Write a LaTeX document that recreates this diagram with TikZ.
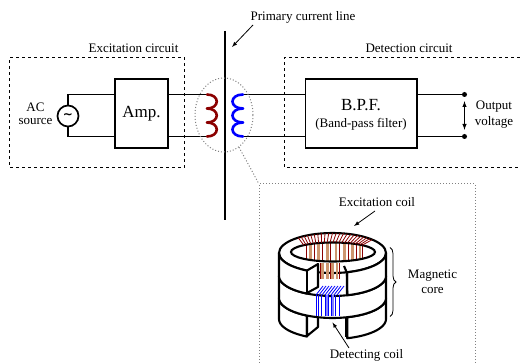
\documentclass[tikz,border=0pt]{standalone}
\usepackage{fontspec}
\setmainfont{Liberation Serif}
\newfontfamily\tildefont{DejaVu Sans}
\usetikzlibrary{decorations.pathreplacing,shapes.geometric}
\definecolor{coilred}{RGB}{139,0,0}
\definecolor{coilblue}{RGB}{0,0,255}
\definecolor{barbrown}{RGB}{205,150,110}
\definecolor{barblue}{RGB}{130,130,255}
\tikzset{>=latex,x=1pt,y=-1pt,
  every node/.style={font=\fontsize{13}{15}\selectfont,inner sep=0pt},
  wire/.style={line width=1.7pt},
  block/.style={draw,line width=1.7pt,fill=white},
  frame/.style={dashed,line width=1pt},
  zoomline/.style={dotted,gray,line width=1pt},
  corepart/.style={draw,fill=white,line width=2.1pt,line join=round},
  coilwire/.style={line width=2.6pt,line cap=round},
  pointer/.style={->,line width=0.8pt}}
\newcommand{\rimx}[1]{332.5+53.5*cos(#1)}
\begin{document}
\begin{tikzpicture}
    \useasboundingbox (0,0) rectangle (520,363);
    % dashed frames
    \draw[frame] (184,57.5) rectangle (9.5,168);
    \draw[frame] (519.5,57.5) -- (284.5,57.5) -- (284.5,168) -- (519.5,168);
    \node (exclabel) at (133.5,48) {Excitation circuit};
    \node (detlabel) at (409,48) {Detection circuit};
    % primary line
    \coordinate (linetop) at (225,31);
    \coordinate (linebot) at (225,220);
    \draw[line width=1.7pt] (linetop) -- (linebot);
    \node (linelabel) at (303,17) {Primary current line};
    \coordinate (linearrow) at (253,25);
    \coordinate (linetip) at (232,47);
    \draw[pointer] (linearrow) -- (linetip);
    % blocks
    \node[block,minimum width=53pt,minimum height=68.5pt] (amp) at (141.5,113.5) {};
    \node[font=\fontsize{17}{19}\selectfont] (amptext) at (141.5,114) {Amp.};
    \node[block,minimum width=111.5pt,minimum height=68.5pt] (bpf) at (361.2,113.5) {};
    \node[font=\fontsize{17}{19}\selectfont] (bpftext) at (361,105) {B.P.F.};
    \node (bpfsub) at (361,124) {(Band-pass filter)};
    \node[draw,circle,line width=1.7pt,minimum size=21pt,font=\fontsize{12}{12}\selectfont\tildefont\bfseries] (src) at (68,116) {\char"007E};
    \node (aclabel) at (35.5,107) {AC};
    \node (srclabel) at (35.5,122) {source};
    % terminals
    \foreach \n/\y in {t/94.5,b/136.5}{
        \coordinate (red\n) at (207,\y);
        \coordinate (blue\n) at (243,\y);
        \node[circle,fill,minimum size=5pt] (out\n) at (464.5,\y) {};
        \draw[wire] (src) |- (115,\y);
        \draw[wire] (168,\y) -- (red\n);
        \draw[wire] (blue\n) -- (305.5,\y);
        \draw[wire] (417,\y) -- (out\n);
    }
    \draw[<->,line width=1pt] ([yshift=-4pt]outt.south) -- ([yshift=4pt]outb.north);
    \node (outlabel) at (494,107) {Output};
    \node (vollabel) at (494,122) {voltage};
    % coils
    \foreach \y in {94.5,108.5,122.5}{
        \draw[coilwire,coilred] (207,\y) .. controls (220,\y) and (220,\y+14) .. (207,\y+14);
        \draw[coilwire,coilblue] (243,\y) .. controls (229,\y) and (229,\y+14) .. (243,\y+14);
    }
    % zoom outline
    \node[draw,ellipse,zoomline,minimum width=58pt,minimum height=74pt] at (224,115) (zoomring) {};
    \coordinate (zoomcorner) at (259,184);
    \draw[zoomline] (zoomring.-65) -- (zoomcorner);
    \draw[zoomline] (259,363) -- (zoomcorner) -- (475,184) -- (475,363);
    % lower layer
    \draw[corepart] plot[domain=180:118.5,samples=16] ({\rimx{\x}},{298+20*sin(\x)})
        -- plot[domain=118.5:180,samples=16] ({\rimx{\x}},{319+20*sin(\x)}) -- cycle;
    \draw[corepart] (318,314) -- (318,327) -- (307,336) -- (307,315);
    \draw[corepart] plot[domain=74:0,samples=16] ({\rimx{\x}},{298+20*sin(\x)})
        -- plot[domain=0:74,samples=16] ({\rimx{\x}},{319+20*sin(\x)}) -- cycle;
    \draw[line width=2.8pt] (346.5,316) -- (346.5,337);
    % middle layer
    \draw[corepart] plot[domain=180:0,samples=30] ({\rimx{\x}},{276+20*sin(\x)})
        -- plot[domain=0:180,samples=30] ({\rimx{\x}},{298+20*sin(\x)}) -- cycle;
    % top of ring and the inside
    \draw[corepart] (332.5,253) ellipse [x radius=53.5,y radius=20];
    \foreach \a in {50,62,...,130}{
        \draw[barbrown,line width=2.8pt] ({333+42*cos(\a)},{252-9.5*sin(\a)}) -- ({333+42*cos(\a)},{252+9.5*sin(\a)});
    }
    \foreach \a in {45,57,...,135}{
        \draw[coilred,line width=0.7pt] ({333+42*cos(\a)},{252-9.5*sin(\a)}) -- ({333+42*cos(\a)},{252+9.5*sin(\a)});
    }
    % upper layer, cut open
    \draw[corepart] plot[domain=180:118.5,samples=16] ({\rimx{\x}},{253+20*sin(\x)})
        -- (318,264) -- (318,287) -- (307,293)
        -- plot[domain=118.5:180,samples=16] ({\rimx{\x}},{276+20*sin(\x)}) -- cycle;
    \draw[line width=2.1pt] (307,271) -- (307,293);
    \draw[corepart] plot[domain=74:0,samples=16] ({\rimx{\x}},{253+20*sin(\x)})
        -- plot[domain=0:74,samples=16] ({\rimx{\x}},{276+20*sin(\x)}) -- (347,272) -- cycle;
    \draw[line width=2.1pt] (344,266) -- (347,273) -- (347,294);
    \draw[line width=2.1pt] (333,252) ellipse [x radius=42,y radius=9.5];
    % excitation coil
    \foreach \a in {46,50,...,134}{
        \draw[coilred,line width=0.8pt] ({333+42*cos(\a)},{252-9.5*sin(\a)}) -- ({\rimx{\a-4}},{253-20*sin(\a-4)});
    }
    \foreach \x in {322.5,327.5,332.5,337}{
        \draw[barbrown,line width=2.4pt] (\x,263) -- (\x,279);
    }
    \foreach \x in {320.5,330,339.5}{
        \draw[coilred,line width=0.6pt] (\x,263) -- (\x,279);
    }
    % detecting coil
    \foreach \x in {316,319,322,325,328,331,334,337}{
        \draw[coilblue,line width=0.8pt] (\x,295) -- (\x+7,286);
    }
    \foreach \x in {326.5,333}{
        \draw[barblue,line width=2pt] (\x,295) -- (\x,316.5);
    }
    \foreach \x in {316,318.5,321,325,328.5,331,335,339}{
        \draw[coilblue,line width=0.8pt] (\x,295) -- (\x,316.5);
    }
    % core labels
    \node (exccoil) at (377,202) {Excitation coil};
    \coordinate (exctail) at (375,211);
    \coordinate (exctip) at (354,226);
    \draw[pointer] (exctail) -- (exctip);
    \node (detcoil) at (366.5,355) {Detecting coil};
    \coordinate (dettail) at (349,348);
    \coordinate (dettip) at (332.5,322.5);
    \draw[pointer] (dettail) -- (dettip);
    \coordinate (bracetop) at (390,247.5);
    \coordinate (bracebot) at (390,316.5);
    \draw[decorate,decoration={brace,amplitude=6pt},line width=0.8pt] (bracetop) -- (bracebot);
    \node (corelabela) at (432.5,276) {Magnetic};
    \node (corelabelb) at (432.5,291) {core};
\end{tikzpicture}
\end{document}
